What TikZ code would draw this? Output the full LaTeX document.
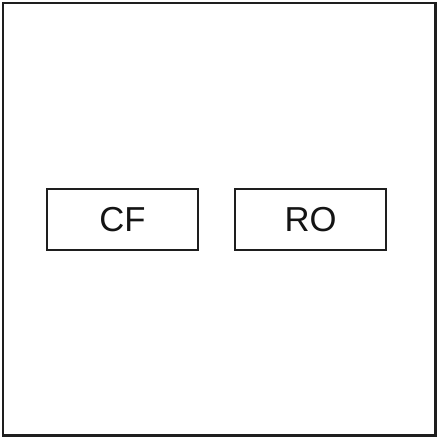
\documentclass[tikz,border=0pt]{standalone}
\usepackage{fontspec}
\setmainfont{Liberation Sans}
\usepackage{tikz}

\tikzset{
  blockbox/.style={draw={rgb, 255:red, 30; green, 30; blue, 30}, line width=1.9pt, minimum width=113.25pt, minimum height=45.75pt, inner sep=0.75pt, text={rgb, 255:red, 20; green, 20; blue, 20}, font=\fontsize{26}{30}\selectfont}
}

\begin{document}
\begin{tikzpicture}[x=0.75pt,y=0.75pt,yscale=-1,xscale=1]
\useasboundingbox (0,0) rectangle (440,440); %set diagram to 440 by 440

%Shape: Rectangle [id:outerframe] 
\draw [color={rgb, 255:red, 30; green, 30; blue, 30 }  ,line width=1.9]  (3,3) rectangle (435.5,435.5) ;

% Text Node
\node [blockbox] (cf) at (122.5,219.5) {CF};
% Text Node
\node [blockbox] (ro) at (310.5,219.5) {RO};

\end{tikzpicture}
\end{document}
